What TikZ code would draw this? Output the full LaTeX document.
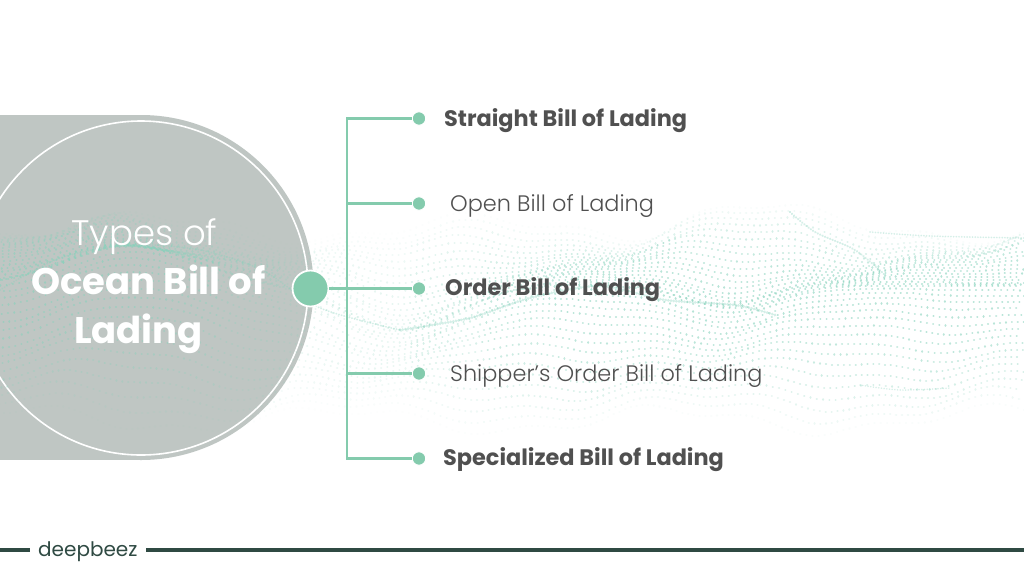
\documentclass[tikz,border=0pt]{standalone}
\usepackage{fontspec}
\setmainfont{Poppins}
\newfontfamily\lightfont{Poppins Light}
\definecolor{panelgray}{HTML}{BFC6C3}
\definecolor{mint}{HTML}{84CBAD}
\definecolor{wavemint}{HTML}{86D2BC}
\definecolor{inktext}{HTML}{505050}
\definecolor{deepgreen}{HTML}{2F4A43}
\tikzset{
  connector/.style={draw=mint,line width=2.2pt},
  itemdot/.style={circle,fill=mint,draw=white,line width=1pt,minimum size=13.5pt,inner sep=0pt},
  hubdot/.style={circle,fill=mint,draw=white,line width=1.8pt,minimum size=36pt,inner sep=0pt},
  itembold/.style={anchor=base west,inner sep=0pt,text=inktext,font=\fontsize{22.4}{26}\selectfont\bfseries},
  itemlight/.style={anchor=base west,inner sep=0pt,text=inktext,font=\fontsize{22.4}{26}\selectfont\lightfont},
  titletext/.style={anchor=base,inner sep=0pt,text=white},
  ridge/.style={draw=wavemint,line cap=round,opacity=0.34,dash pattern=on 0.1pt off 2.6pt},
  wavedot/.style={draw=wavemint,line cap=round,line width=2.2pt},
  footbar/.style={fill=deepgreen}
}
\begin{document}
\begin{tikzpicture}[x=1pt,y=-1pt]
\useasboundingbox (0,0) rectangle (1024,576);
\fill[white] (0,0) rectangle (1024,576);
% panel and ring
\fill[panelgray] (0,115) rectangle (141,460);
\fill[panelgray] (141,287.5) circle[radius=172.5];
\draw[white,line width=1.6pt] (141,288) circle[radius=167];
% dotted wave
\begin{scope}
\clip (0,195) rectangle (1024,450);
\foreach \j in {0,...,35}{
  \pgfmathsetmacro{\s}{(\j+0.5-18)/18}
  \pgfmathsetmacro{\as}{abs(\s)}
  \pgfmathsetmacro{\rowop}{0.6*(1-\as*\as*\as)}
  \foreach \ia/\ib/\fd in {0/28/1,29/36/0.8,37/46/0.55,47/68/0.35,69/80/0.6,81/92/0.85,93/170/1}{
    \pgfmathsetmacro{\op}{\rowop*\fd}
    \draw[wavedot,opacity=\op]
      \foreach \i [evaluate=\i as \bx using 6*\i,
                   evaluate=\i as \ry using 285-40*exp(-((6*\i-130)/90)^2)+45*exp(-((6*\i-400)/80)^2)+22*exp(-((6*\i-730)/60)^2),
                   evaluate=\i as \tp using 226-22*exp(-((6*\i-730)/70)^2),
                   evaluate=\i as \dy using (\s<0 ? \ry-\tp : 425-\ry)*\s*\as^0.35,
                   evaluate=\i as \wob using 12*\as*sin(6.6*\i+260*\s)+5*sin(18.6*\i+90*\s)*\as,
                   evaluate=\i as \px using 6*\i+4*sin(95*\j+4.2*\i),
                   evaluate=\i as \py using \ry+\dy+\wob] in {\ia,...,\ib}
      { (\px,\py) -- ++(0.02,0) };
  }
}
\end{scope}
\draw[ridge,line width=2pt] plot[smooth] coordinates {(0,290) (60,258) (130,245) (200,250) (262,270) (320,308) (400,330)};
\draw[ridge,line width=3pt] plot[smooth] coordinates {(400,330) (470,318) (530,298) (600,286) (665,300) (735,305) (775,315)};
\draw[ridge,line width=2.4pt] plot[smooth] coordinates {(790,212) (815,232) (855,250) (885,275)};
\draw[ridge,line width=1.8pt] plot[smooth] coordinates {(870,232) (930,236) (1024,238)};
\draw[ridge,line width=1.6pt] plot[smooth] coordinates {(860,385) (900,390) (950,388)};
% nodes
\node[itemdot] (d1) at (419,118.5) {};
\node[itemdot] (d2) at (419,203.5) {};
\node[itemdot] (d3) at (419,288.5) {};
\node[itemdot] (d4) at (419,373.5) {};
\node[itemdot] (d5) at (419,458.5) {};
\node[hubdot] (hub) at (310.5,288.5) {};
\coordinate (s1) at (347,118.5);
\coordinate (s2) at (347,203.5);
\coordinate (s4) at (347,373.5);
\coordinate (s5) at (347,458.5);
% connectors
\draw[connector,line join=miter] (d1) -- (s1) -- (s5) -- (d5);
\draw[connector] (s2) -- (d2);
\draw[connector] (hub) -- (d3);
\draw[connector] (s4) -- (d4);
% item labels
\node[itembold] (t1) at (444,126) {Straight Bill of Lading};
\node[itemlight] (t2) at (450,211) {Open Bill of Lading};
\node[itembold] (t3) at (445,295) {Order Bill of Lading};
\node[itemlight] (t4) at (450,381) {Shipper’s Order Bill of Lading};
\node[itembold] (t5) at (443,465) {Specialized Bill of Lading};
% title
\node[titletext,font=\fontsize{35.5}{40}\selectfont\lightfont] (h1) at (144.5,245) {Types of};
\node[titletext,font=\fontsize{37}{40}\selectfont\bfseries] (h2) at (148.5,294) {Ocean Bill of};
\node[titletext,font=\fontsize{37}{40}\selectfont\bfseries] (h3) at (138.5,343) {Lading};
% footer
\fill[footbar] (0,548.3) rectangle (30,551.8);
\fill[footbar] (146,548.3) rectangle (1024,551.8);
\node[anchor=base west,inner sep=0pt,text=deepgreen,font=\fontsize{20}{24}\selectfont] (logo) at (38,556) {deepbeez};
\end{tikzpicture}
\end{document}
